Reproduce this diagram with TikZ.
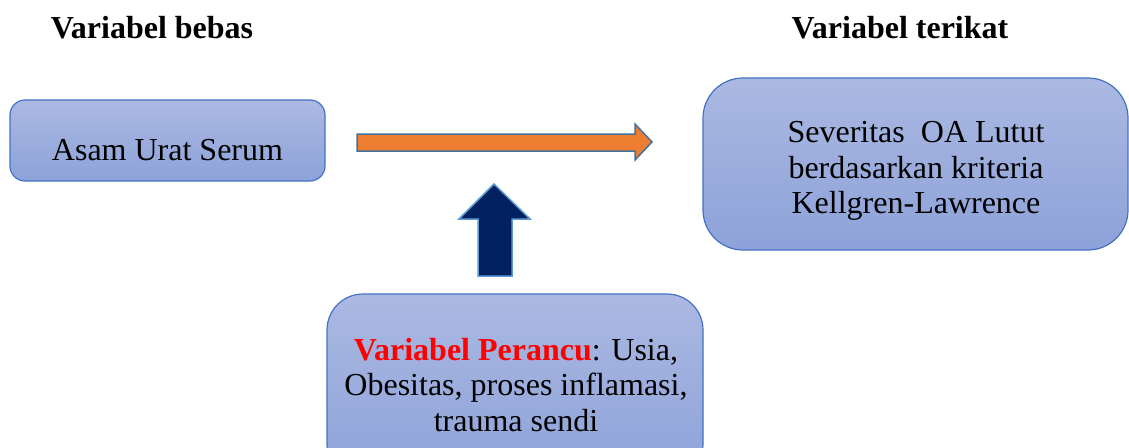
\documentclass[tikz,border=0pt]{standalone}
\usepackage{fontspec}
\setmainfont{Liberation Serif}
\begin{document}
\begin{tikzpicture}[x=1pt,y=-1pt,
  box/.style={draw=boxline, line width=1.2pt, top color=boxtop, bottom color=boxbot, inner sep=0pt},
  lbl/.style={align=center, font=\fontsize{32}{35.5}\selectfont, inner sep=0pt},
  ttl/.style={font=\fontsize{32}{35}\selectfont\bfseries, inner sep=0pt}]
\definecolor{boxline}{HTML}{4472C4}
\definecolor{boxtop}{HTML}{ABB9E2}
\definecolor{boxbot}{HTML}{8DA2D9}
\definecolor{orangef}{HTML}{ED7D31}
\definecolor{orangeb}{HTML}{41719C}
\definecolor{navyf}{HTML}{002060}
\definecolor{navyb}{HTML}{5B9BD5}
\useasboundingbox (0,0) rectangle (1129,447);
\clip (0,0) rectangle (1129,447);
\node[ttl] (t1) at (152,28) {Variabel bebas};
\node[ttl] (t2) at (900,28) {Variabel terikat};
% boxes
\draw[box, rounded corners=15pt] (10,100) rectangle (325,181);
\node[lbl] (b1) at (167.5,150) {Asam Urat Serum};
\draw[box, rounded corners=40pt] (703,78) rectangle (1128,250);
\node[lbl] (b2) at (916,171) {Severitas\ \ OA Lutut\\berdasarkan kriteria\\Kellgren-Lawrence};
\draw[box, rounded corners=36pt] (327,294) rectangle (703,480);
\node[lbl] (b3) at (516,385) {\textcolor{red}{\bfseries Variabel Perancu}: Usia,\\Obesitas, proses inflamasi,\\trauma sendi};
% orange arrow
\draw[fill=orangef, draw=orangeb, line width=1.5pt]
  (357,134) -- (635,134) -- (635,124) -- (652,142) -- (635,160) -- (635,151) -- (357,151) -- cycle;
% navy arrow
\draw[fill=navyf, draw=navyb, line width=1.5pt]
  (494,184) -- (530,219) -- (512,219) -- (512,276) -- (478,276) -- (478,219) -- (459,219) -- cycle;
\end{tikzpicture}
\end{document}
